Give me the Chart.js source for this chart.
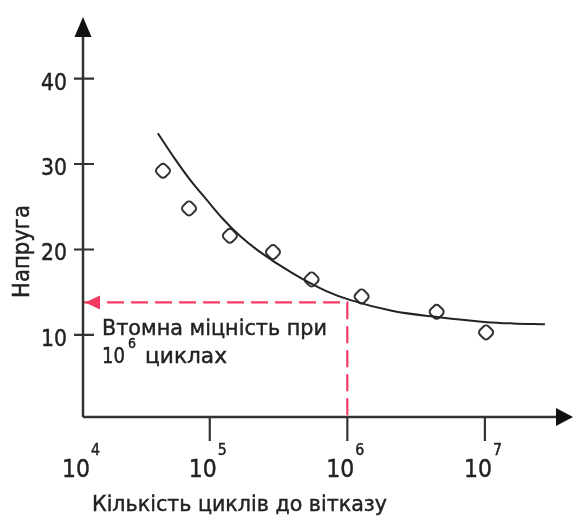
<!DOCTYPE html>
<html><head><meta charset="utf-8"><title>Втомна міцність</title>
<style>
    html, body {
        margin: 0;
        padding: 0;
        background: #fff;
    }
    #wrap {
        width: 574px;
        height: 517px;
    }
</style>
<script src="https://cdn.jsdelivr.net/npm/chart.js"></script>
</head>
<body>
<div id="wrap"><canvas id="chart" width="574" height="517"></canvas></div>

<script>
// measured points (cycles to failure, stress)
const cycles = [45700, 70700, 140000, 288000, 550000, 1270000, 4460000, 10200000];
const stress = [29.2, 24.8, 21.6, 19.7, 16.5, 14.5, 12.7, 10.3];

// fitted S-N curve
const curveCycles = [41900, 54700, 71500, 95100, 124300, 165300, 223400, 401500, 709600, 1042000, 2142000, 4477000, 10340000, 15980000, 27300000];
const curveStress = [33.6, 30.8, 28.2, 25.8, 23.6, 21.6, 19.9, 17.2, 15.1, 14.1, 12.8, 12.1, 11.5, 11.35, 11.25];

// fatigue limit at 10^6 cycles
const limitCycles = [11980, 1000000, 1000000];
const limitStress = [13.8, 13.8, 0.4];

// axes
const yTicks = [10, 20, 30, 40];
const xTicks = [1e5, 1e6, 1e7];
const xExponents = [4, 5, 6, 7];   // 10^4 is written at the origin
const xTitle = 'Кількість циклів до вітказу';
const yTitle = 'Напруга';
const noteLine1 = 'Втомна міцність при';
const noteLine2 = 'циклах';
const noteExp = '6';

const INK = '#222';
const RED = '#f33a64';
const FONT = '"DejaVu Sans", Verdana, sans-serif';

function toXY(xs, ys) {
    return xs.map((x, i) => ({ x: x, y: ys[i] }));
}

// text slightly emboldened to look like the original raster
function text(ctx, s, x, y, size, align, width) {
    ctx.font = size + 'px ' + FONT;
    ctx.textAlign = align;
    ctx.textBaseline = 'alphabetic';
    ctx.lineWidth = 0.45;
    ctx.strokeStyle = INK;
    ctx.fillText(s, x, y, width);
    ctx.strokeText(s, x, y, width);
}

const decorations = {
    id: 'decorations',
    afterDatasetsDraw(chart) {
        const ctx = chart.ctx;
        const xs = chart.scales.x, ys = chart.scales.y;
        const left = chart.chartArea.left, bottom = chart.chartArea.bottom;
        const top = chart.chartArea.top, right = chart.chartArea.right;
        ctx.save();

        // arrow on the dashed line
        const ay = ys.getPixelForValue(limitStress[0]);
        ctx.fillStyle = RED;
        ctx.beginPath();
        ctx.moveTo(left + 2, ay);
        ctx.lineTo(left + 17, ay - 7);
        ctx.lineTo(left + 17, ay + 7);
        ctx.closePath();
        ctx.fill();

        // axes with arrows
        ctx.strokeStyle = '#333';
        ctx.fillStyle = '#111';
        ctx.lineWidth = 2.5;
        ctx.beginPath();
        ctx.moveTo(left, bottom);
        ctx.lineTo(left, top + 10);
        ctx.moveTo(left, bottom);
        ctx.lineTo(right - 10, bottom);
        ctx.stroke();
        ctx.beginPath();
        ctx.moveTo(left, top);
        ctx.lineTo(left - 8.5, top + 20);
        ctx.lineTo(left + 8.5, top + 20);
        ctx.closePath();
        ctx.fill();
        ctx.beginPath();
        ctx.moveTo(right, bottom);
        ctx.lineTo(right - 17, bottom - 9);
        ctx.lineTo(right - 17, bottom + 9);
        ctx.closePath();
        ctx.fill();

        // ticks
        ctx.lineWidth = 2.2;
        ctx.beginPath();
        yTicks.forEach(v => {
            const py = ys.getPixelForValue(v);
            ctx.moveTo(left - 9, py);
            ctx.lineTo(left + 11, py);
        });
        xTicks.forEach(v => {
            const px = xs.getPixelForValue(v);
            ctx.moveTo(px, bottom);
            ctx.lineTo(px, bottom + 24);
        });
        ctx.stroke();

        // tick labels
        ctx.fillStyle = INK;
        yTicks.forEach(v => {
            text(ctx, String(v), left - 16, ys.getPixelForValue(v) + 11, 23, 'right', 26);
        });
        const xPos = [left].concat(xTicks.map(v => xs.getPixelForValue(v)));
        xPos.forEach((px, i) => {
            text(ctx, '10', px - 21, bottom + 60, 24, 'left', 28);
            text(ctx, String(xExponents[i]), px + 8, bottom + 38, 15, 'left', 9);
        });

        // axis titles
        text(ctx, xTitle, 92, 511, 22, 'left', 295);
        ctx.save();
        ctx.translate(29, 251.5);
        ctx.rotate(-Math.PI / 2);
        text(ctx, yTitle, 0, 0, 23, 'center', 93);
        ctx.restore();

        // note
        text(ctx, noteLine1, 102, 335, 22, 'left', 225);
        text(ctx, '10', 102, 363, 22, 'left', 23);
        text(ctx, noteExp, 128, 348, 14, 'left', 8);
        text(ctx, noteLine2, 145, 363, 22, 'left', 82);

        ctx.restore();
    }
};

new Chart(document.getElementById('chart'), {
    type: 'line',
    data: {
        datasets: [
            {
                label: 'limit',
                data: toXY(limitCycles, limitStress),
                borderColor: RED,
                borderWidth: 2.2,
                borderDash: [17, 7],
                pointRadius: 0,
                tension: 0,
                fill: false
            },
            {
                label: 'curve',
                data: toXY(curveCycles, curveStress),
                borderColor: '#222',
                borderWidth: 2,
                pointRadius: 0,
                cubicInterpolationMode: 'monotone',
                fill: false
            },
            {
                label: 'tests',
                data: toXY(cycles, stress),
                showLine: false,
                pointStyle: 'rectRounded',
                pointRotation: 45,
                pointRadius: 7,
                pointBorderWidth: 2,
                pointBorderColor: '#333',
                pointBackgroundColor: 'rgba(0,0,0,0)'
            }
        ]
    },
    options: {
        responsive: false,
        animation: false,
        events: [],
        layout: { autoPadding: false, padding: { left: 83, top: 17, right: 1, bottom: 100 } },
        plugins: {
            legend: { display: false },
            tooltip: { enabled: false }
        },
        scales: {
            x: { type: 'logarithmic', min: 11980, max: 43700000, display: false },
            y: { type: 'linear', min: 0.4, max: 47.2, display: false }
        }
    },
    plugins: [decorations]
});
</script>
</body></html>
